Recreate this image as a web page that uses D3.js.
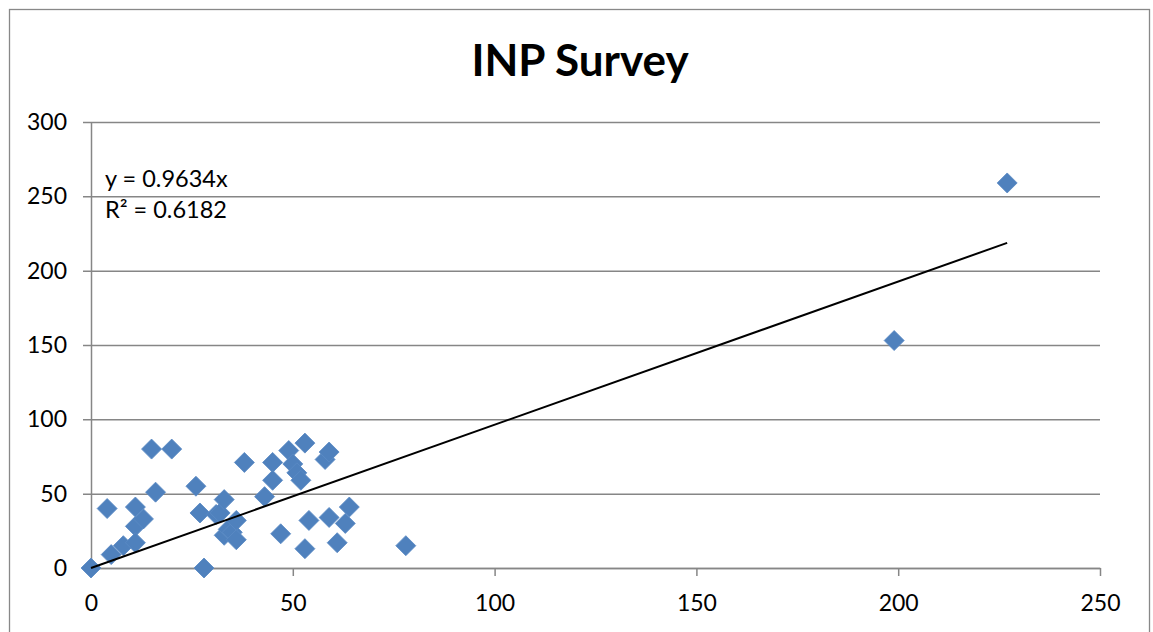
<!DOCTYPE html>
<html lang="en">
<head>
<meta charset="UTF-8">
<title>INP Survey</title>
<script src="https://d3js.org/d3.v7.min.js"></script>
<style>
  body { margin: 0; background: #fff; }
  svg { display: block; font-family: Lato, "Open Sans", sans-serif; }
</style>
</head>
<body>
<svg width="1153" height="632"></svg>
<script>
// survey points (x, y)
const xs = [0, 227, 199, 4, 5, 8, 11, 11, 11, 13, 15, 16, 20, 26, 27, 28,
  31, 32, 33, 33, 34, 35, 36, 36, 38, 43, 45, 45, 47, 49, 50, 51,
  52, 53, 53, 54, 58, 59, 59, 61, 63, 64, 78];
const ys = [0, 259, 153, 40, 9, 15, 41, 28, 17, 33, 80, 51, 80, 55, 37, 0,
  36, 37, 46, 22, 26, 24, 32, 19, 71, 48, 71, 59, 23, 79, 70, 64,
  59, 84, 13, 32, 73, 78, 34, 17, 30, 41, 15];

const slope = 0.9634;
const eqLines = ["y = 0.9634x", "R\u00B2 = 0.6182"];
const xTicks = [0, 50, 100, 150, 200, 250];
const yTicks = [0, 50, 100, 150, 200, 250, 300];

const points = xs.map((x, i) => ({ x: x, y: ys[i] }));

const svg = d3.select("svg");
const plotL = 91, plotR = 1100, plotT = 122, plotB = 568;

const x = d3.scaleLinear().domain([0, 250]).range([plotL, plotR]);
const y = d3.scaleLinear().domain([0, 300]).range([plotB, plotT]);

// chart frame (bottom edge is off the picture)
svg.append("rect")
  .attr("x", 9.5).attr("y", 9.5)
  .attr("width", 1140).attr("height", 660)
  .attr("fill", "none").attr("stroke", "#888").attr("stroke-width", 1.3);

svg.append("text")
  .attr("x", 580).attr("y", 76)
  .attr("text-anchor", "middle")
  .attr("font-size", 44).attr("font-weight", "bold")
  .text("INP Survey");

// y axis with gridlines
const yAxis = svg.append("g")
  .attr("transform", `translate(${plotL},0)`)
  .call(d3.axisLeft(y).tickValues(yTicks).tickSizeInner(-(plotR - plotL)).tickSizeOuter(0).tickPadding(24));
yAxis.selectAll(".tick line").attr("x1", -8).attr("stroke", "#868686").attr("stroke-width", 1.5);
yAxis.select(".domain").attr("stroke", "#868686").attr("stroke-width", 1.5);
yAxis.selectAll("text").attr("font-size", 23).attr("fill", "#000").attr("font-family", "Lato");

// x axis
const xAxis = svg.append("g")
  .attr("transform", `translate(0,${plotB})`)
  .call(d3.axisBottom(x).tickValues(xTicks).tickSize(8).tickSizeOuter(0).tickPadding(19));
xAxis.selectAll(".tick line").attr("stroke", "#868686").attr("stroke-width", 1.5);
xAxis.select(".domain").attr("stroke", "#868686").attr("stroke-width", 1.5);
xAxis.selectAll("text").attr("font-size", 23).attr("fill", "#000").attr("font-family", "Lato");

// markers
svg.append("g").selectAll("path")
  .data(points)
  .join("path")
  .attr("d", d3.symbol(d3.symbolSquare, 200))
  .attr("transform", d => `translate(${x(d.x)},${y(d.y)}) rotate(45)`)
  .attr("fill", "#4f81bd")
  .attr("stroke", "#5b8ac4")
  .attr("stroke-width", 0.8);

// linear trendline through the origin
const xMax = d3.max(xs);
svg.append("path")
  .attr("d", d3.line().x(d => x(d)).y(d => y(slope * d))([0, xMax]))
  .attr("fill", "none").attr("stroke", "#000").attr("stroke-width", 2);

svg.append("g").selectAll("text")
  .data(eqLines)
  .join("text")
  .attr("x", 105)
  .attr("y", (d, i) => 187 + i * 31)
  .attr("font-size", 23.5)
  .text(d => d);
</script>
</body>
</html>
